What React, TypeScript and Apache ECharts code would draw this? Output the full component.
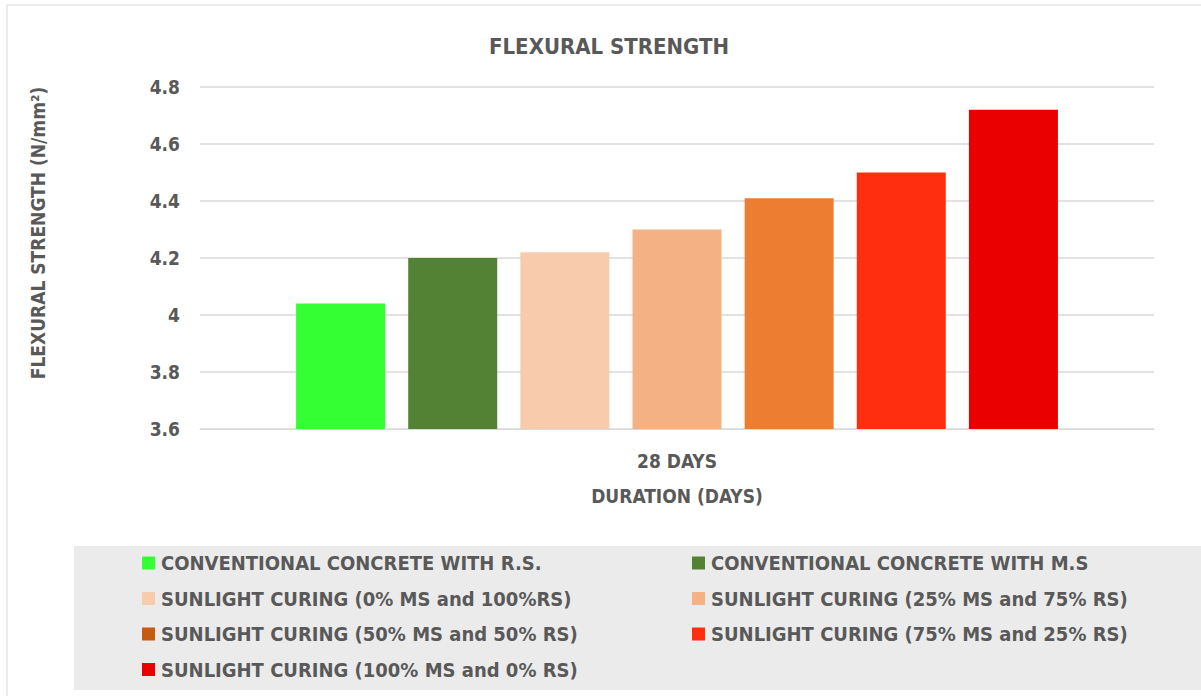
import React, { useEffect, useRef } from "react";
import * as echarts from "echarts";

const categories = ["28 DAYS"];
const seriesNames = [
  "CONVENTIONAL CONCRETE WITH R.S.",
  "CONVENTIONAL CONCRETE WITH M.S",
  "SUNLIGHT CURING (0% MS and 100%RS)",
  "SUNLIGHT CURING (25% MS and 75% RS)",
  "SUNLIGHT CURING (50% MS and 50% RS)",
  "SUNLIGHT CURING (75% MS and 25% RS)",
  "SUNLIGHT CURING (100% MS and 0% RS)",
];
const seriesValues = [4.04, 4.2, 4.22, 4.3, 4.41, 4.5, 4.72];
const barColors = ["#33FF33", "#548235", "#F8CBAD", "#F4B183", "#ED7D31", "#FF2E0E", "#EB0000"];
const legendColors = ["#33FF33", "#548235", "#F8CBAD", "#F4B183", "#C55A11", "#FF2E0E", "#EB0000"];

const FONT = "'Liberation Sans Narrow', 'DejaVu Sans Condensed', 'Roboto Condensed', sans-serif";
const TXT = "#595959";

export default function App() {
  const ref = useRef<HTMLDivElement>(null);
  useEffect(() => {
    if (!ref.current) return;
    const chart = echarts.init(ref.current, null, { renderer: "svg" });
    const legendItem = (i: number) => ({
      name: seriesNames[i],
      itemStyle: { color: legendColors[i] },
    });
    const legendCommon = {
      orient: "vertical" as const,
      icon: "rect",
      itemWidth: 13,
      itemHeight: 13,
      itemGap: 15.5,
      selectedMode: false,
      textStyle: {
        fontFamily: FONT,
        fontSize: 20,
        fontWeight: "bold" as const,
        color: TXT,
        lineHeight: 20,
        padding: [0, 0, 0, 1],
      },
    };
    chart.setOption({
      animation: false,
      backgroundColor: "#ffffff",
      title: {
        text: "FLEXURAL STRENGTH",
        left: 604,
        textAlign: "center",
        top: 30,
        textStyle: { fontFamily: FONT, fontSize: 22, fontWeight: "bold", color: TXT },
      },
      graphic: [
        {
          type: "rect",
          shape: { x: 7, y: 5, width: 1200, height: 700 },
          style: { fill: "none", stroke: "#d9d9d9", lineWidth: 1 },
          silent: true,
        },
        {
          type: "rect",
          shape: { x: 74, y: 546, width: 1127, height: 144 },
          style: { fill: "#ebebeb" },
          silent: true,
          z: -1,
        },
        {
          type: "text",
          x: 38,
          y: 233,
          rotation: Math.PI / 2,
          style: {
            text: "FLEXURAL STRENGTH (N/mm²)",
            fontFamily: FONT,
            fontSize: 19,
            fontWeight: "bold",
            fill: TXT,
            align: "center",
            verticalAlign: "middle",
          },
        },
      ],
      legend: [
        {
          ...legendCommon,
          left: 137,
          top: 548,
          data: [0, 2, 4, 6].map(legendItem),
        },
        {
          ...legendCommon,
          left: 687,
          top: 548,
          data: [1, 3, 5].map(legendItem),
        },
      ],
      grid: { left: 200, right: 47, top: 87, bottom: 267 },
      xAxis: {
        type: "category",
        data: categories,
        name: "DURATION (DAYS)",
        nameLocation: "middle",
        nameGap: 57,
        nameTextStyle: { fontFamily: FONT, fontSize: 19, fontWeight: "bold", color: TXT },
        axisLine: { show: true, lineStyle: { color: "#d9d9d9", width: 1 } },
        axisTick: { show: false },
        axisLabel: { fontFamily: FONT, fontSize: 19, fontWeight: "bold", color: TXT, margin: 22 },
      },
      yAxis: {
        type: "value",
        min: 3.6,
        max: 4.8,
        interval: 0.2,
        axisLine: { show: false },
        axisTick: { show: false },
        axisLabel: {
          fontFamily: FONT,
          fontSize: 19,
          fontWeight: "bold",
          color: TXT,
          margin: 20,
          formatter: (v: number) => String(Math.round(v * 10) / 10),
        },
        splitLine: { lineStyle: { color: "#d9d9d9", width: 1.5 } },
      },
      series: seriesNames.map((name, i) => ({
        name,
        type: "bar",
        data: [seriesValues[i]],
        barWidth: 89,
        barGap: "26%",
        itemStyle: { color: barColors[i] },
      })),
    });
    return () => chart.dispose();
  }, []);
  return (
    <div
      ref={ref}
      style={{ position: "fixed", left: 0, top: 0, width: 1201, height: 696 }}
    />
  );
}
